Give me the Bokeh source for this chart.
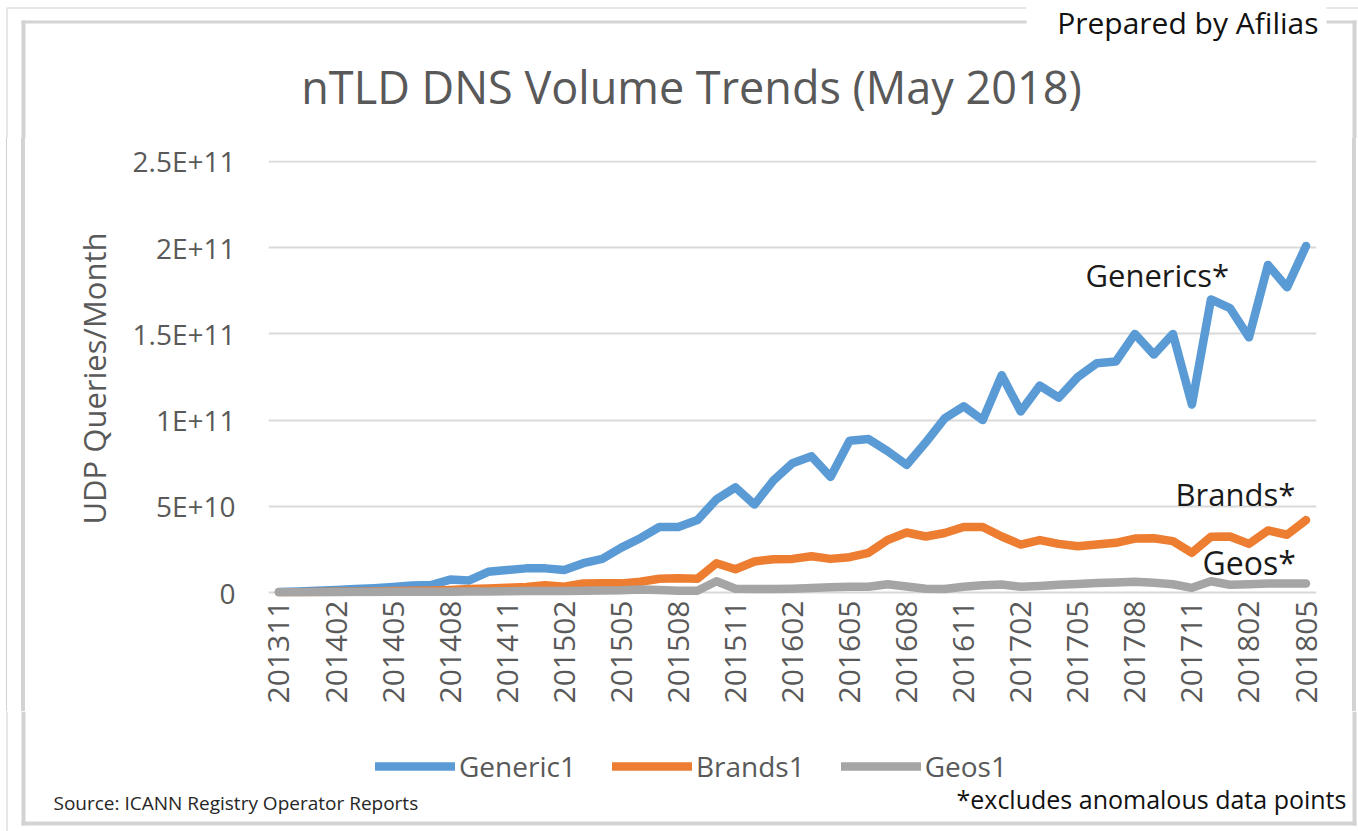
import math
from bokeh.plotting import figure
from bokeh.layouts import column, row
from bokeh.models import (Range1d, FixedTicker, Label, Legend, LegendItem,
                          BoxAnnotation, Div)
from bokeh.core.properties import value
from bokeh.embed import file_html
from bokeh.resources import INLINE

# ---------------- data ----------------
months = [
    "201311", "201312",
    "201401", "201402", "201403", "201404", "201405", "201406",
    "201407", "201408", "201409", "201410", "201411", "201412",
    "201501", "201502", "201503", "201504", "201505", "201506",
    "201507", "201508", "201509", "201510", "201511", "201512",
    "201601", "201602", "201603", "201604", "201605", "201606",
    "201607", "201608", "201609", "201610", "201611", "201612",
    "201701", "201702", "201703", "201704", "201705", "201706",
    "201707", "201708", "201709", "201710", "201711", "201712",
    "201801", "201802", "201803", "201804", "201805",
]
shown_months = ["201311", "201402", "201405", "201408", "201411", "201502",
                "201505", "201508", "201511", "201602", "201605", "201608",
                "201611", "201702", "201705", "201708", "201711", "201802",
                "201805"]

# UDP queries per month, in billions (1E+9)
generic_bn = [0.3, 0.6, 1.0, 1.5, 2.0, 2.5, 3.2, 4.0, 4.3, 7.5,
              7.0, 12.0, 13.0, 14.0, 14.0, 13.0, 17.0, 19.5, 26.0, 31.5,
              38.0, 38.0, 42.0, 54.0, 61.0, 51.0, 65.0, 75.0, 79.0, 67.0,
              88.0, 89.0, 82.0, 74.0, 87.0, 101.0, 108.0, 100.0, 126.0, 105.0,
              120.0, 113.0, 125.0, 133.0, 134.0, 150.0, 138.0, 150.0, 109.0, 170.0,
              165.0, 148.0, 190.0, 177.0, 201.0]
brands_bn = [0.1, 0.2, 0.3, 0.4, 0.5, 0.6, 0.8, 1.0, 1.2, 1.5,
             2.0, 2.3, 2.8, 3.2, 4.2, 3.3, 5.2, 5.3, 5.3, 6.2,
             8.0, 8.2, 8.0, 17.0, 13.5, 18.0, 19.3, 19.5, 21.0, 19.5,
             20.5, 23.0, 30.5, 34.8, 32.5, 34.5, 38.0, 38.0, 32.5, 27.8,
             30.4, 28.2, 26.8, 27.8, 28.8, 31.3, 31.5, 29.8, 23.0, 32.3,
             32.5, 28.2, 36.0, 33.5, 42.0]
geos_bn = [0.1, 0.1, 0.2, 0.2, 0.3, 0.3, 0.4, 0.4, 0.5, 0.5,
           0.6, 0.6, 0.7, 0.8, 0.8, 0.9, 1.0, 1.1, 1.3, 1.8,
           1.5, 1.0, 1.0, 6.5, 2.2, 2.0, 2.0, 2.2, 2.6, 3.0,
           3.3, 3.3, 4.8, 3.5, 2.2, 2.0, 3.3, 4.2, 4.6, 3.3,
           3.8, 4.5, 5.0, 5.5, 5.8, 6.2, 5.6, 4.8, 2.7, 6.5,
           4.5, 4.8, 5.2, 5.2, 5.2]

series_names = ["Generic1", "Brands1", "Geos1"]
y_ticks = [0.0, 5e10, 1e11, 1.5e11, 2e11, 2.5e11]
y_tick_labels = ["0", "5E+10", "1E+11", "1.5E+11", "2E+11", "2.5E+11"]

x_idx = list(range(len(months)))
generic = [v * 1e9 for v in generic_bn]
brands = [v * 1e9 for v in brands_bn]
geos = [v * 1e9 for v in geos_bn]

# ---------------- style ----------------
FONT = "Open Sans"
GREY_TXT = "#595959"
DARK_TXT = "#1a1a1a"
COLORS = ["#5B9BD5", "#ED7D31", "#A5A5A5"]
BOX = "#d3d3d3"
THIN = "#d0d0d0"

W, H = 1358, 831
TOP_H = 138          # page y 0..138
MAIN_H = 573         # page y 138..711
BOT_H = H - TOP_H - MAIN_H   # page y 711..831
LS_W = 28            # left strip page x 0..28
RS_W = 6             # right strip page x 1352..1358
MAIN_W = W - LS_W - RS_W
BASE_SHIFT = 0.41    # alphabetic-baseline correction, in em


def blank(w, h):
    f = figure(width=w, height=h, x_range=Range1d(0, w), y_range=Range1d(0, h),
               output_backend="svg", toolbar_location=None,
               x_axis_type=None, y_axis_type=None, min_border=0)
    f.outline_line_color = None
    f.background_fill_color = "white"
    f.border_fill_color = "white"
    return f


def rect(f, left, right, top, bottom, color):
    f.add_layout(BoxAnnotation(left=left, right=right, top=top, bottom=bottom,
                               left_units="canvas", right_units="canvas",
                               top_units="canvas", bottom_units="canvas",
                               fill_color=color, fill_alpha=1, line_alpha=0))


def text(f, x, y, s, size, color, align="left", baseline="alphabetic"):
    if baseline == "alphabetic":
        y = y - BASE_SHIFT * size
    f.add_layout(Label(x=x, y=y, x_units="canvas", y_units="canvas", text=s,
                       text_font=FONT, text_font_size=f"{size}px", text_color=color,
                       text_align=align, text_baseline=baseline))


# ---------------- top strip (title) ----------------
top = blank(W, TOP_H)
rect(top, 7, 1026, 7, 8, THIN)
rect(top, 1326, W, 7, 8, THIN)
rect(top, 6, 7, 7, TOP_H, THIN)
rect(top, 21, 1026, 20, 23, BOX)
rect(top, 1326, 1356, 20, 23, BOX)
rect(top, 21, 25, 20, TOP_H, BOX)
rect(top, 1352, 1356, 20, TOP_H, BOX)
text(top, 691, 104, "nTLD DNS Volume Trends (May 2018)", 45, GREY_TXT, align="center")
text(top, 1318, 34, "Prepared by Afilias", 30, "#111111", align="right")

# ---------------- side strips (chart box edges) ----------------
lstrip = Div(text="", width=LS_W, height=MAIN_H, styles={
    "background": ("linear-gradient(to right, #ffffff 0px, #ffffff 6px, "
                   f"{THIN} 6px, {THIN} 7px, #ffffff 7px, #ffffff 21px, "
                   f"{BOX} 21px, {BOX} 25px, #ffffff 25px, #ffffff 28px)"),
    "margin": "0", "padding": "0"})
rstrip = Div(text="", width=RS_W, height=MAIN_H, styles={
    "background": f"linear-gradient(to right, {BOX} 0px, {BOX} 4px, #ffffff 4px, #ffffff 6px)",
    "margin": "0", "padding": "0"})

# ---------------- main chart ----------------
p = figure(width=MAIN_W, height=MAIN_H,
           x_range=Range1d(-0.55, len(months) - 1 + 0.55),
           y_range=Range1d(-2.32e9, 2.5058e11),
           output_backend="svg", toolbar_location=None,
           min_border_left=240, min_border_right=36,
           min_border_top=22, min_border_bottom=115)
p.outline_line_color = None
p.background_fill_color = "white"
p.border_fill_color = "white"

renderers = []
for ys, col in zip([generic, brands, geos], COLORS):
    r = p.line(x_idx, ys, line_color=col, line_width=8.5,
               line_join="round", line_cap="round")
    renderers.append(r)

p.yaxis.ticker = FixedTicker(ticks=y_ticks)
p.yaxis.major_label_overrides = dict(zip(y_ticks, y_tick_labels))
p.yaxis.major_label_text_font = FONT
p.yaxis.major_label_text_font_size = "28px"
p.yaxis.major_label_text_color = GREY_TXT
p.yaxis.major_label_standoff = 33
p.yaxis.major_tick_line_color = None
p.yaxis.minor_tick_line_color = None
p.yaxis.major_tick_out = 0
p.yaxis.major_tick_in = 0
p.yaxis.axis_line_color = None
p.yaxis.axis_label = "UDP Queries/Month"
p.yaxis.axis_label_text_font = FONT
p.yaxis.axis_label_text_font_size = "31px"
p.yaxis.axis_label_text_font_style = "normal"
p.yaxis.axis_label_text_color = GREY_TXT
p.yaxis.axis_label_standoff = 15

shown_idx = [months.index(m) for m in shown_months]
p.xaxis.ticker = FixedTicker(ticks=shown_idx)
p.xaxis.major_label_overrides = {i: months[i] for i in shown_idx}
p.xaxis.major_label_orientation = math.pi / 2
p.xaxis.major_label_text_font = FONT
p.xaxis.major_label_text_font_size = "30px"
p.xaxis.major_label_text_color = GREY_TXT
p.xaxis.major_label_standoff = 4
p.xaxis.major_tick_line_color = None
p.xaxis.minor_tick_line_color = None
p.xaxis.major_tick_out = 0
p.xaxis.major_tick_in = 0
p.xaxis.axis_line_color = None

p.xgrid.grid_line_color = None
p.ygrid.ticker = FixedTicker(ticks=y_ticks)
p.ygrid.grid_line_color = "#d9d9d9"
p.ygrid.grid_line_width = 2

text(p, 1085 - LS_W, 287 - TOP_H, "Generics*", 31, DARK_TXT)
text(p, 1175 - LS_W, 506 - TOP_H, "Brands*", 31, DARK_TXT)
text(p, 1202 - LS_W, 575 - TOP_H, "Geos*", 32, DARK_TXT)

# ---------------- bottom strip (legend, notes) ----------------
bot = blank(W, BOT_H)
rect(bot, 6, 7, 0, BOT_H, THIN)
rect(bot, 21, 25, 0, 114, BOX)
rect(bot, 1352, 1356, 0, 114, BOX)
rect(bot, 21, 1356, 110, 114, BOX)

# legend keys: renderers styled like the series, holding no visible point
nan = float("nan")
leg_r = [bot.line(x=[nan, nan], y=[nan, nan], line_color=c, line_width=8.5,
                  line_cap="round")
         for c in COLORS]
legend = Legend(
    items=[LegendItem(label=value(n), renderers=[r]) for n, r in zip(series_names, leg_r)],
    orientation="horizontal", location=(375, 46),
    glyph_width=80, glyph_height=30, label_height=30, label_standoff=4,
    spacing=36, padding=0, margin=0,
    border_line_color=None, background_fill_alpha=0,
    label_text_font=FONT, label_text_font_size="28px", label_text_color=GREY_TXT)
bot.add_layout(legend)

text(bot, 53, 802 - (TOP_H + MAIN_H), "Source: ICANN Registry Operator Reports", 19, "#262626", baseline="middle")
text(bot, 956, 798 - (TOP_H + MAIN_H), "*excludes anomalous data points", 25, "#111111", baseline="middle")

layout = column(top, row(lstrip, p, rstrip), bot)
open("out.html", "w").write(file_html(layout, INLINE))
